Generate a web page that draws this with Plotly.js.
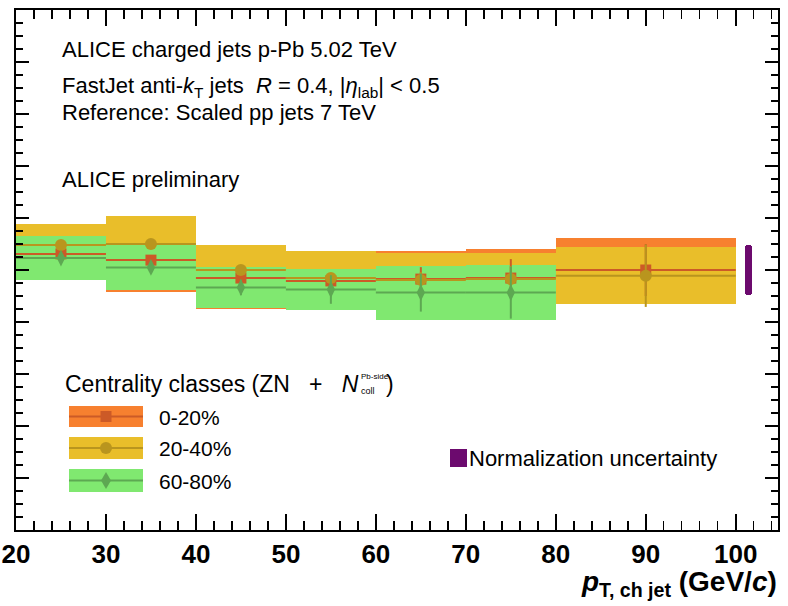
<!DOCTYPE html>
<html>
<head>
<meta charset="utf-8">
<script src="https://cdn.plot.ly/plotly-3.0.1.min.js"></script>
<style>
  html, body { margin: 0; padding: 0; background: #ffffff; }
  #chart { width: 788px; height: 606px; }
</style>
</head>
<body>
<div id="chart"></div>
<script>
// Jet pT bins (GeV/c)
const binCenter    = [25, 35, 45, 55, 65, 75, 90];
const binHalfWidth = [5, 5, 5, 5, 5, 5, 10];

// 0-20% centrality: value, statistical and systematic uncertainty
const rcp0020  = [1.062, 1.038, 0.969, 0.958, 0.965, 0.969, 1.000];
const stat0020 = [0.015, 0.015, 0.015, 0.020, 0.046, 0.073, 0.100];
const sys0020  = [0.085, 0.123, 0.119, 0.108, 0.110, 0.112, 0.123];

// 20-40% centrality
const rcp2040  = [1.096, 1.100, 1.000, 0.969, 0.962, 0.965, 0.978];
const stat2040 = [0.012, 0.012, 0.015, 0.015, 0.030, 0.050, 0.120];
const sys2040  = [0.081, 0.108, 0.096, 0.104, 0.104, 0.100, 0.110];

// 60-80% centrality (no point in the 80-100 bin)
const rcp6080  = [1.046, 1.010, 0.933, 0.925, 0.913, 0.913];
const stat6080 = [0.020, 0.020, 0.030, 0.055, 0.073, 0.100];
const sys6080  = [0.085, 0.087, 0.079, 0.079, 0.104, 0.105];

// Normalization uncertainty box
const normX      = [101.4];
const normCenter = [1.0];
const normUnc    = [0.096];

// Tick labels on the pT axis
const xTickVals = [20, 30, 40, 50, 60, 70, 80, 90, 100];
const xTickText = ['20', '30', '40', '50', '60', '70', '80', '90', '100'];

const FONT = 'Liberation Sans, Arial, Helvetica, sans-serif';

const col = {
  orangeBox: '#F7802F', orangeMk: '#CC5A27',
  goldBox:   '#E9BE2A', goldMk:   '#B9951E',
  greenBox:  '#80E870', greenMk:  '#5DA852',
  purple:    '#6C0A6E'
};

function sysBand(vals, sys, color) {
  const n = vals.length;
  return {
    type: 'bar',
    x: binCenter.slice(0, n),
    width: binHalfWidth.slice(0, n).map(w => 2 * w),
    base: vals.map((v, i) => v - sys[i]),
    y: sys.map(s => 2 * s),
    marker: { color: color, line: { width: 0 } },
    hoverinfo: 'skip',
    showlegend: false
  };
}

function points(vals, stat, color, symbol, size) {
  const n = vals.length;
  return {
    type: 'scatter',
    mode: 'markers',
    x: binCenter.slice(0, n),
    y: vals,
    error_x: { type: 'data', array: binHalfWidth.slice(0, n), color: color, thickness: 2, width: 0 },
    error_y: { type: 'data', array: stat, color: color, thickness: 2, width: 0 },
    marker: { symbol: symbol, size: size, color: color, line: { width: 0 } },
    showlegend: false
  };
}

const traces = [
  sysBand(rcp0020, sys0020, col.orangeBox),
  sysBand(rcp2040, sys2040, col.goldBox),
  sysBand(rcp6080, sys6080, col.greenBox),
  {
    type: 'bar',
    x: normX,
    width: [0.8],
    base: normCenter.map((c, i) => c - normUnc[i]),
    y: normUnc.map(u => 2 * u),
    marker: { color: col.purple, line: { width: 0 }, cornerradius: 3 },
    hoverinfo: 'skip',
    showlegend: false
  },
  points(rcp0020, stat0020, col.orangeMk, 'square', 11),
  points(rcp2040, stat2040, col.goldMk, 'circle', 12),
  points(rcp6080, stat6080, col.greenMk, 'diamond-tall', 12)
];

// pixel -> paper helpers for the plot frame (16..778 x 10..530)
const PL = 16, PR = 778, PT = 10, PB = 530;
const P = x => (x - PL) / (PR - PL);
const Q = y => (PB - y) / (PB - PT);

function rect(x0, y0, x1, y1, color) {
  return { type: 'rect', xref: 'paper', yref: 'paper', x0: P(x0), x1: P(x1), y0: Q(y1), y1: Q(y0),
           fillcolor: color, line: { width: 0 } };
}
function hline(x0, x1, y, color) {
  return { type: 'line', xref: 'paper', yref: 'paper', x0: P(x0), x1: P(x1), y0: Q(y), y1: Q(y),
           line: { color: color, width: 2 } };
}

const shapes = [
  // legend: 0-20%
  rect(69, 406, 143, 427, col.orangeBox),
  hline(69, 143, 416.5, col.orangeMk),
  rect(100.5, 411, 111.5, 422, col.orangeMk),
  // legend: 20-40%
  rect(69, 437, 143, 459, col.goldBox),
  hline(69, 143, 448, col.goldMk),
  { type: 'circle', xref: 'paper', yref: 'paper', x0: P(100), x1: P(112), y0: Q(454), y1: Q(442),
    fillcolor: col.goldMk, line: { width: 0 } },
  // legend: 60-80%
  rect(69, 469, 143, 492, col.greenBox),
  hline(69, 143, 480.5, col.greenMk),
  { type: 'path', xref: 'paper', yref: 'paper',
    path: `M ${P(106)} ${Q(472)} L ${P(111)} ${Q(480.5)} L ${P(106)} ${Q(489)} L ${P(101)} ${Q(480.5)} Z`,
    fillcolor: col.greenMk, line: { width: 0 } },
  // legend: normalization
  rect(450, 449, 467, 467, col.purple)
];

function note(text, x, y, size, opts) {
  return Object.assign({
    text: text, xref: 'paper', yref: 'paper', x: P(x), y: Q(y),
    xanchor: 'left', yanchor: 'middle', showarrow: false,
    font: { family: FONT, size: size, color: '#000000' }
  }, opts || {});
}

const annotations = [
  note('ALICE charged jets p-Pb 5.02 TeV', 60, 50, 22),
  note('FastJet anti-<i>k</i><sub>T</sub> jets &nbsp;<i>R</i> = 0.4, |<i>η</i><sub>lab</sub>| &lt; 0.5', 60, 87, 22),
  note('Reference: Scaled pp jets 7 TeV', 60, 113, 22),
  note('ALICE preliminary', 60, 180, 22),
  note('Centrality classes (ZN &nbsp;&nbsp;+&nbsp;&nbsp; <i>N</i>', 63, 384, 23),
  note('Pb-side', 359, 377, 8),
  note('coll', 359, 391, 9),
  note(')', 384, 384, 23),
  note('0-20%', 157, 417, 21),
  note('20-40%', 157, 448, 21),
  note('60-80%', 157, 481, 21),
  note('Normalization uncertainty', 467, 458, 22),
  note('<b><i>p</i><sub>T, ch jet</sub> (GeV/<i>c</i>)</b>', 779, 583, 28, { xanchor: 'right' })
];

const layout = {
  width: 788, height: 606,
  margin: { l: PL, r: 788 - PR, t: PT, b: 606 - PB, pad: 0 },
  paper_bgcolor: '#ffffff', plot_bgcolor: '#ffffff',
  barmode: 'overlay', bargap: 0,
  showlegend: false,
  xaxis: {
    range: [20, 104.7],
    tickvals: xTickVals, ticktext: xTickText,
    ticks: 'inside', ticklen: 16, tickwidth: 2, tickcolor: '#000',
    showline: true, linewidth: 2, linecolor: '#000', mirror: 'allticks',
    showgrid: false, zeroline: false,
    minor: { dtick: 2, tick0: 0, ticks: 'inside', ticklen: 9, tickwidth: 1.5, tickcolor: '#000', showgrid: false },
    tickfont: { family: FONT, size: 26, color: '#000', weight: 'bold' }
  },
  yaxis: {
    range: [0, 2],
    dtick: 0.2, tick0: 0,
    ticks: 'inside', ticklen: 13, tickwidth: 2, tickcolor: '#000',
    showticklabels: false,
    showline: true, linewidth: 2, linecolor: '#000', mirror: 'allticks',
    showgrid: false, zeroline: false,
    minor: { dtick: 0.05, tick0: 0, ticks: 'inside', ticklen: 7, tickwidth: 1.5, tickcolor: '#000', showgrid: false }
  },
  shapes: shapes,
  annotations: annotations
};

Plotly.newPlot('chart', traces, layout, { staticPlot: true, displayModeBar: false });
</script>
</body>
</html>
